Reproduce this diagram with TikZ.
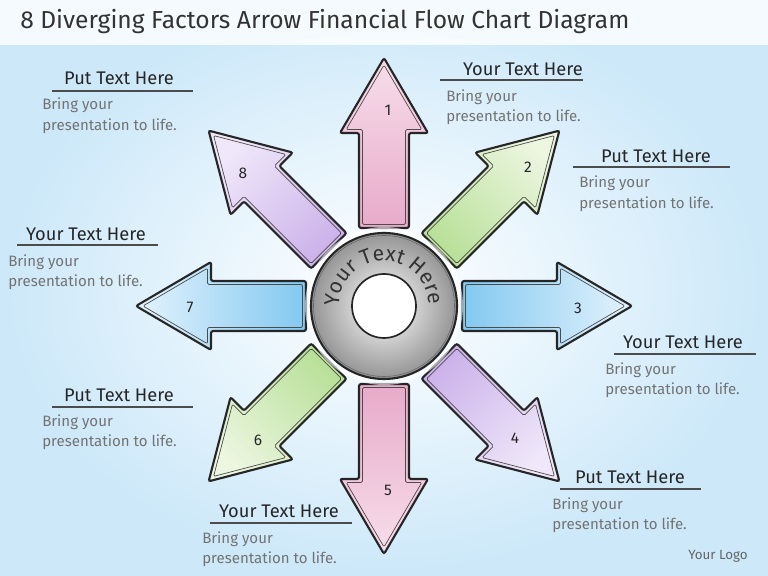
\documentclass[tikz,border=0pt]{standalone}
\usepackage{fontspec}
\setmainfont{Fira Sans}
\usetikzlibrary{calc,decorations.text}
\definecolor{bgblue}{RGB}{204,232,249}
\definecolor{pinkL}{RGB}{247,222,234}
\definecolor{pinkD}{RGB}{232,170,202}
\definecolor{greenL}{RGB}{236,246,224}
\definecolor{greenD}{RGB}{184,224,152}
\definecolor{blueL}{RGB}{228,243,253}
\definecolor{blueD}{RGB}{130,200,240}
\definecolor{lavL}{RGB}{240,232,250}
\definecolor{lavD}{RGB}{204,178,234}
\begin{document}
\begin{tikzpicture}[x=0.025cm,y=0.025cm,
  head/.style={font=\fontsize{13}{15}\selectfont, text=black!85, inner sep=0pt},
  body/.style={font=\fontsize{10.7}{12}\selectfont, text=black!55, inner sep=0pt, anchor=west},
  uline/.style={draw=black!70, line width=0.8pt},
  numlbl/.style={font=\fontsize{11}{12}\selectfont, text=black!85, inner sep=0pt},
  outerline/.style={draw=black!85, line width=1.5pt, rounded corners=1.5pt},
  innerline/.style={draw=black!70, line width=0.5pt, rounded corners=1pt}]
\useasboundingbox (0,0) rectangle (768,576);
\shade[inner color=white, outer color=bgblue] (0,0) rectangle (768,576);
\fill[white, opacity=0.8] (0,531) rectangle (768,576);
\node[anchor=west, font=\fontsize{17.5}{20}\selectfont, text=black!80, inner sep=0pt] (title) at (20,554) {8 Diverging Factors Arrow Financial Flow Chart Diagram};
\coordinate (C) at (384,270);
% arrows
\foreach \ang/\lc/\dc/\nm/\nx/\ny in {90/pinkL/pinkD/1/388/110, 45/greenL/greenD/2/528/167, 0/blueL/blueD/3/578/308, -45/lavL/lavD/4/515/438, -90/pinkL/pinkD/5/388/490, -135/greenL/greenD/6/258/440, 180/blueL/blueD/7/190/307, 135/lavL/lavD/8/243/173}{
  \pgfmathsetmacro\sa{\ang-90}
  \shade[top color=\lc, bottom color=\dc, shading angle=\sa, outerline]
    ($(C)+(\ang:78)+(\ang+90:25)$) -- ($(C)+(\ang:173)+(\ang+90:25)$) -- ($(C)+(\ang:173)+(\ang+90:44)$) -- ($(C)+(\ang:248)$) -- ($(C)+(\ang:173)+(\ang-90:44)$) -- ($(C)+(\ang:173)+(\ang-90:25)$) -- ($(C)+(\ang:78)+(\ang-90:25)$) -- cycle;
  \draw[innerline]
    ($(C)+(\ang:81.5)+(\ang+90:21.5)$) -- ($(C)+(\ang:176.5)+(\ang+90:21.5)$) -- ($(C)+(\ang:176.5)+(\ang+90:37.8)$) -- ($(C)+(\ang:241)$) -- ($(C)+(\ang:176.5)+(\ang-90:37.8)$) -- ($(C)+(\ang:176.5)+(\ang-90:21.5)$) -- ($(C)+(\ang:81.5)+(\ang-90:21.5)$) -- cycle;
  \node[numlbl] (n\nm) at (\nx,576-\ny) {\nm};
}
% ring
\fill[white, opacity=0.6] (C) circle (79);
\shade[inner color=white, outer color=black!42, draw=black!85, line width=1.5pt] (C) circle (73);
\draw[black!60, line width=0.4pt] (C) circle (70.5);
\draw[fill=white, draw=black!85, line width=1.2pt] (C) circle (32);
\path[decorate, decoration={text along path, text={|\fontsize{15}{16}\selectfont|Your Text Here}, text align=center, text color=black!80}]
  ($(C)+(192:45)$) arc[start angle=192, end angle=-10, radius=45];
% text blocks
\foreach \nm/\hd/\hx/\hy/\la/\lb/\ly/\bx/\bya/\byb in {
  h8/Put Text Here/119/78/52/193/91/42/105/126,
  h1/Your Text Here/523/69/440/583/80/446/97/117,
  h2/Put Text Here/656/156/573/730/167/579/183/204,
  h7/Your Text Here/86/234/17/158/245/8/262/282,
  h3/Your Text Here/683/342/614/756/354/605/370/390,
  h6/Put Text Here/119/395/52/193/407/42/422/442,
  h4/Put Text Here/630/477/560/701/489/552/505/525,
  h5/Your Text Here/279/511/210/352/523/202/539/559}{
  \node[head] (\nm) at (\hx,576-\hy) {\hd};
  \coordinate (\nm-l) at (\la,576-\ly);
  \coordinate (\nm-r) at (\lb,576-\ly);
  \draw[uline] (\nm-l) -- (\nm-r);
  \node[body] (\nm-a) at (\bx,576-\bya) {Bring your};
  \node[body] (\nm-b) at (\bx,576-\byb) {presentation to life.};
}
\node[font=\fontsize{9.5}{10}\selectfont, text=black!60, inner sep=0pt] (logo) at (718,20) {Your Logo};
\end{tikzpicture}
\end{document}
